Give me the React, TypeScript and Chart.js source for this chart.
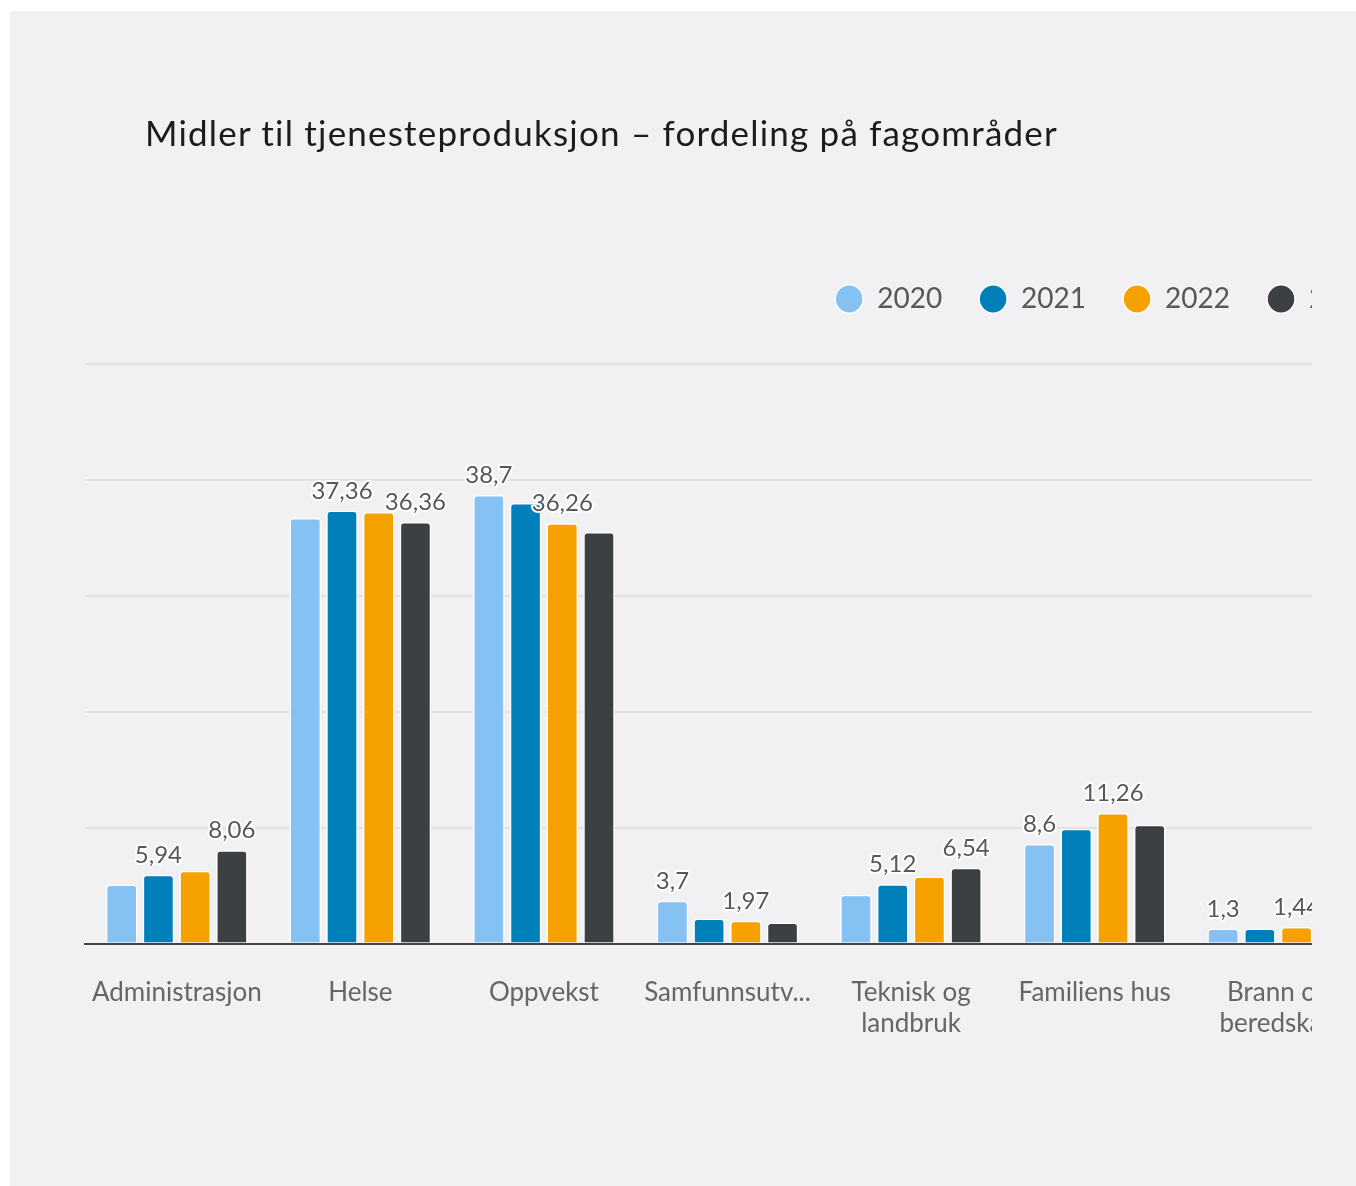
import React, { useEffect, useRef } from 'react';
import { Chart, registerables } from 'chart.js';

Chart.register(...registerables);

const title = 'Midler til tjenesteproduksjon – fordeling på fagområder';
const categories: (string | string[])[] = [
  'Administrasjon',
  'Helse',
  'Oppvekst',
  'Samfunnsutv...',
  ['Teknisk og', 'landbruk'],
  'Familiens hus',
  ['Brann og', 'beredskap'],
];
const years = ['2020', '2021', '2022', '2023'];
const values2020 = [5.1, 36.72, 38.7, 3.7, 4.22, 8.6, 1.3];
const values2021 = [5.94, 37.36, 38.0, 2.16, 5.12, 9.91, 1.3];
const values2022 = [6.29, 37.24, 36.26, 1.97, 5.78, 11.26, 1.44];
const values2023 = [8.06, 36.36, 35.5, 1.81, 6.54, 10.26, 1.2];
const seriesValues = [values2020, values2021, values2022, values2023];
const seriesColors = ['#86c1f3', '#0080bb', '#f5a200', '#3d4042'];
const yMax = 50;
const yStep = 10;

const FONT = 'Lato';

const fmt = (v: number) => String(v).replace('.', ',');

const valueLabels = {
  id: 'valueLabels',
  afterDatasetsDraw(chart: any) {
    const ctx = chart.ctx;
    ctx.save();
    ctx.font = `24px ${FONT}`;
    ctx.textAlign = 'center';
    ctx.textBaseline = 'alphabetic';
    const n = chart.data.labels.length;
    for (let i = 0; i < n; i++) {
      const items = chart.data.datasets.map((ds: any, d: number) => ({
        v: ds.data[i] as number,
        el: chart.getDatasetMeta(d).data[i],
      }));
      items.sort((a: any, b: any) => b.v - a.v);
      const drawn: { l: number; r: number; t: number; b: number }[] = [];
      for (const it of items) {
        const text = fmt(it.v);
        const w = ctx.measureText(text).width;
        const x = it.el.x;
        const y = it.el.y - 12;
        const r = { l: x - w / 2 - 2, r: x + w / 2 + 2, t: y - 20, b: y + 6 };
        if (drawn.some((q) => r.l < q.r && r.r > q.l && r.t < q.b && r.b > q.t)) continue;
        drawn.push(r);
        ctx.lineJoin = 'round';
        ctx.lineWidth = 4;
        ctx.strokeStyle = '#ffffff';
        ctx.strokeText(text, x, y);
        ctx.fillStyle = '#585858';
        ctx.fillText(text, x, y);
      }
    }
    ctx.restore();
  },
};

const legendGap = {
  id: 'legendGap',
  beforeLayout(chart: any) {
    const lg = chart.legend;
    if (lg && !lg._gapPatched) {
      const orig = lg.fit;
      lg.fit = function () {
        orig.call(this);
        this.height += 41;
      };
      lg._gapPatched = true;
    }
  },
};

export default function App() {
  const canvasRef = useRef<HTMLCanvasElement | null>(null);

  useEffect(() => {
    document.body.style.overflow = 'hidden';
    const canvas = canvasRef.current;
    if (!canvas) return;
    const chart = new Chart(canvas, {
      type: 'bar',
      data: {
        labels: categories,
        datasets: years.map((y, i) => ({
          label: y,
          data: seriesValues[i],
          backgroundColor: seriesColors[i],
          borderColor: '#ffffff',
          borderWidth: 1.5,
          borderRadius: { topLeft: 4, topRight: 4, bottomLeft: 0, bottomRight: 0 },
          borderSkipped: 'bottom',
          categoryPercentage: 0.8,
          barPercentage: 0.86,
        })),
      },
      options: {
        responsive: true,
        maintainAspectRatio: false,
        animation: false,
        layout: { padding: { left: 75, right: 0, top: 237, bottom: 19 } },
        plugins: {
          legend: {
            position: 'top',
            align: 'end',
            labels: {
              usePointStyle: true,
              pointStyle: 'circle',
              boxHeight: 20,
              pointStyleWidth: 28,
              padding: 37,
              color: '#585858',
              font: { family: FONT, size: 28 },
            },
          },
          tooltip: { enabled: false },
          title: { display: false },
        },
        scales: {
          x: {
            grid: { display: false, drawTicks: false },
            border: { display: true, color: '#444444', width: 2 },
            ticks: {
              color: '#666666',
              font: { family: FONT, size: 26, lineHeight: 1.2 },
              padding: 33,
              maxRotation: 0,
              autoSkip: false,
            },
          },
          y: {
            min: 0,
            max: yMax,
            ticks: { display: false, stepSize: yStep },
            grid: { color: '#e2e2e5', lineWidth: 2, drawTicks: false },
            border: { display: false },
          },
          yRight: {
            type: 'linear',
            position: 'right',
            display: true,
            ticks: { display: false },
            grid: { display: false, drawTicks: false },
            border: { display: false },
            afterFit(scale: any) {
              scale.width = 41;
            },
          },
        },
      } as any,
      plugins: [valueLabels, legendGap],
    });
    return () => chart.destroy();
  }, []);

  return (
    <div
      style={{
        position: 'absolute',
        left: 10,
        top: 11,
        width: 1346,
        height: 1175,
        background: '#f1f1f3',
        overflow: 'hidden',
      }}
    >
      <div
        style={{
          position: 'absolute',
          left: 0,
          top: 0,
          width: 1302,
          height: 1175,
          overflow: 'hidden',
        }}
      >
        <div style={{ position: 'absolute', left: 0, top: 0, width: 1401, height: 1080 }}>
          <canvas ref={canvasRef} />
        </div>
      </div>
      <div
        style={{
          position: 'absolute',
          left: 135,
          top: 100,
          fontFamily: FONT,
          fontSize: 35,
          lineHeight: 1.2,
          letterSpacing: '1.2px',
          color: '#1c1c1c',
          whiteSpace: 'nowrap',
        }}
      >
        {title}
      </div>
    </div>
  );
}
